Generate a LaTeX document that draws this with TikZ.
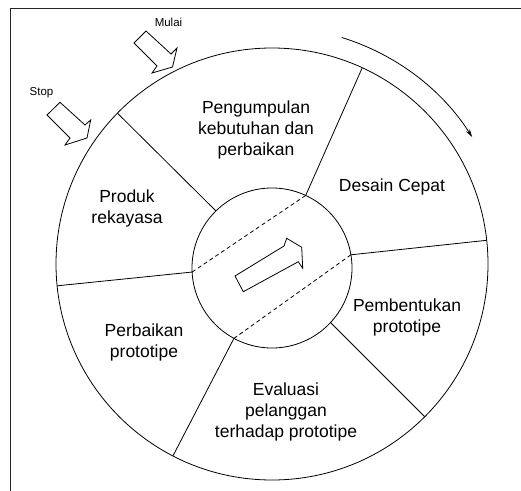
\documentclass[tikz,border=0pt]{standalone}
\usepackage{fontspec}
\setmainfont{Liberation Sans}
\usetikzlibrary{arrows.meta,calc}
\begin{document}
\begin{tikzpicture}[x=1bp,y=-1bp,
  thin line/.style={line width=0.8bp, draw=black},
  dash chord/.style={line width=0.8bp, draw=black, dash pattern=on 4bp off 3bp},
  lbl/.style={font=\fontsize{17.5bp}{21bp}\selectfont, align=center, inner sep=0pt},
  smalllbl/.style={font=\fontsize{11.5bp}{14bp}\selectfont, inner sep=0pt},
  blockarrow/.style={line width=0.8bp, draw=black, line join=miter, fill=white},
  flowarrow/.style={line width=0.8bp, draw=black, -{Stealth[length=8bp,width=4.5bp]}}]
\useasboundingbox (0,0) rectangle (521,491);
% frame
\draw[line width=1bp, black!85] (10.5,491) -- (10.5,8.5) -- (521,8.5);
% centres
\coordinate (O) at (272,264);
\coordinate (I) at (272,268);
% circles
\draw[thin line] (O) circle[radius=216];
\draw[thin line] (I) circle[radius=80];
% outer ends of dividers
\coordinate (oT)  at ($(O)+(-65.3:216)$);
\coordinate (oR)  at ($(O)+(-6.3:216)$);
\coordinate (oLR) at ($(O)+(45:216)$);
\coordinate (oLL) at ($(O)+(117.3:216)$);
\coordinate (oL)  at ($(O)+(174.2:216)$);
\coordinate (oUL) at ($(O)+(-135.7:216)$);
% inner ends of dividers
\coordinate (iT)  at ($(I)+(-65.1:80)$);
\coordinate (iR)  at ($(I)+(-9.5:80)$);
\coordinate (iLR) at ($(I)+(43:80)$);
\coordinate (iLL) at ($(I)+(118.4:80)$);
\coordinate (iL)  at ($(I)+(177.1:80)$);
\coordinate (iUL) at ($(I)+(-134.5:80)$);
% dividers
\draw[thin line] (iT) -- (oT);
\draw[thin line] (iR) -- (oR);
\draw[thin line] (iLR) -- (oLR);
\draw[thin line] (iLL) -- (oLL);
\draw[thin line] (iL) -- (oL);
\draw[thin line] (iUL) -- (oUL);
% dashed chords
\draw[dash chord] (iL) -- (iT);
\draw[dash chord] (iR) -- (iLL);
% rotation arrow
\coordinate (arcS) at ($(O)+(-72.9:237)$);
\draw[flowarrow] (arcS) arc[start angle=-72.9, end angle=-32.4, radius=237];
% inner block arrow
\draw[blockarrow] (235,276) -- (284,246) -- (286.7,238.3) -- (301.7,247.3)
  -- (302.7,268.3) -- (298.3,261.7) -- (243.3,291.7) -- cycle;
% Mulai block arrow
\draw[blockarrow] (134,43) -- (146,31) -- (171,54) -- (177,48) -- (172.5,67)
  -- (152,73) -- (157,66) -- cycle;
% Stop block arrow
\draw[blockarrow] (47,115) -- (60,102.3) -- (85,125) -- (90.7,120) -- (87,138)
  -- (65,145) -- (70,138) -- cycle;
% labels
\node[smalllbl] (mulai) at (168.5,22) {Mulai};
\node[smalllbl] (stop) at (41.5,93) {Stop};
\node[lbl] (peng) at (256,130) {Pengumpulan\\kebutuhan dan\\perbaikan};
\node[lbl] (desain) at (392,187) {Desain Cepat};
\node[lbl] (produk) at (127,208) {Produk\\rekayasa};
\node[lbl] (pemb) at (407,317) {Pembentukan\\prototipe};
\node[lbl] (perb) at (144,342) {Perbaikan\\prototipe};
\node[lbl] (eval) at (286,412) {Evaluasi\\pelanggan\\terhadap prototipe};
\end{tikzpicture}
\end{document}
